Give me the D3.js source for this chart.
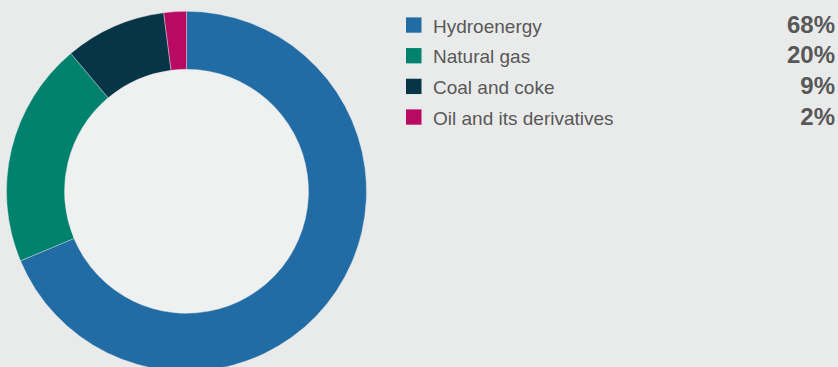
<!DOCTYPE html>
<html>
<head>
<meta charset="UTF-8">
<title>Energy sources</title>
<script src="https://d3js.org/d3.v7.min.js"></script>
<style>
  html, body { margin: 0; padding: 0; background: #e9ebea; }
  .chart { display: block; font-family: "Liberation Sans", Arial, Helvetica, sans-serif; }
</style>
</head>
<body>
<svg class="chart" width="838" height="367"></svg>
<script>
  // data
  var sources = ["Hydroenergy", "Natural gas", "Coal and coke", "Oil and its derivatives"];
  var shares = [68, 20, 9, 2];
  var colors = ["#226ca5", "#01826e", "#063547", "#b90a63"];

  var svg = d3.select(".chart"),
      cx = 186.5, cy = 191.3,
      outerR = 180, innerR = 122;

  var color = d3.scaleOrdinal().domain(sources).range(colors);

  var rows = sources.map(function(s, i) { return {name: s, value: shares[i]}; });

  var pie = d3.pie().sort(null).value(function(d) { return d.value; });
  var arc = d3.arc().innerRadius(innerR).outerRadius(outerR);

  //------------------------------------------------------------------
  // donut
  var g = svg.append("g").attr("transform", "translate(" + cx + "," + cy + ")");

  g.append("circle")
    .attr("r", innerR)
    .attr("fill", "#eff1f1");

  g.selectAll("path")
    .data(pie(rows))
    .enter().append("path")
      .attr("d", arc)
      .attr("fill", function(d) { return color(d.data.name); })
      .attr("stroke", "#e9ebea")
      .attr("stroke-width", 0.4);

  //------------------------------------------------------------------
  // legend
  var y = d3.scalePoint().domain(sources).range([32.7, 124.7]);

  var leg = svg.append("g")
    .selectAll("g")
    .data(rows)
    .enter().append("g")
      .attr("transform", function(d) { return "translate(0," + y(d.name) + ")"; });

  leg.append("rect")
    .attr("x", 406)
    .attr("y", -15.3)
    .attr("width", 15.5)
    .attr("height", 15.3)
    .attr("fill", function(d) { return color(d.name); });

  leg.append("text")
    .attr("x", 433)
    .attr("y", 0)
    .attr("font-size", 19)
    .attr("fill", "#585858")
    .text(function(d) { return d.name; });

  leg.append("text")
    .attr("x", 835)
    .attr("y", 0)
    .attr("text-anchor", "end")
    .attr("font-size", 24)
    .attr("font-weight", "bold")
    .attr("fill", "#585858")
    .text(function(d) { return d.value + "%"; });
</script>
</body>
</html>
